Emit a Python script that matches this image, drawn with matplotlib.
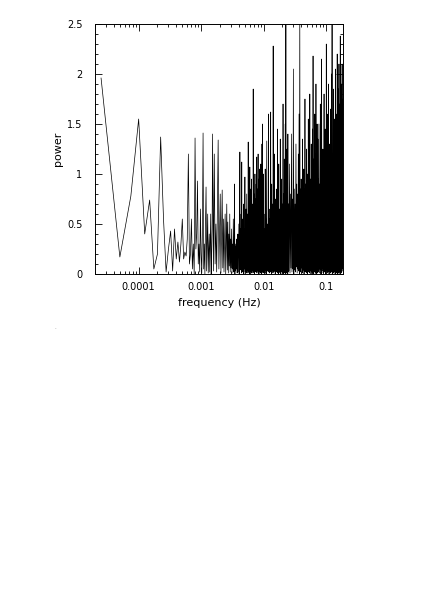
#!/usr/bin/env python3
"""Power spectrum (periodogram) on a log frequency axis, PGPLOT-like look."""

import numpy as np
import matplotlib
matplotlib.use("Agg")
import matplotlib.pyplot as plt
from matplotlib.ticker import FixedLocator, NullFormatter, MultipleLocator, FuncFormatter

# frequency resolution of the spectrum (Hz); frequencies are k * F0
F0 = 2.5e-5

# k = 1..60, every bin
power_a = [
    1.96, 0.17, 0.78, 1.55, 0.40, 0.74, 0.05, 0.20, 1.37, 0.55,
    0.02, 0.25, 0.43, 0.03, 0.45, 0.15, 0.32, 0.12, 0.30, 0.55,
    0.15, 0.22, 0.18, 0.35, 1.20, 0.10, 0.20, 0.55, 0.05, 0.30,
    0.00, 1.36, 0.25, 0.40, 0.93, 0.10, 0.30, 0.02, 0.65, 0.20,
    0.01, 0.45, 1.41, 0.05, 0.30, 0.00, 0.50, 0.87, 0.03, 0.35,
    0.60, 0.01, 0.25, 0.40, 0.02, 0.30, 0.60, 0.00, 0.20, 0.45,
]
# k = 61..399, every 2nd bin
power_b = [
    1.40, 0.03, 1.20, 0.10, 0.50, 0.02, 0.65, 1.34, 0.05, 0.45,
    0.80, 0.01, 0.40, 0.84, 0.06, 0.55, 0.02, 0.35, 0.60, 0.00,
    0.30, 0.70, 0.04, 0.52, 0.01, 0.40, 0.08, 0.60, 0.02, 0.35,
    0.06, 0.45, 0.01, 0.30, 0.05, 0.55, 0.02, 0.25, 0.90, 0.00,
    0.30, 0.03, 0.28, 0.05, 0.35, 0.01, 0.25, 0.40, 0.02, 0.30,
    0.50, 0.00, 0.35, 1.22, 0.04, 0.45, 0.06, 0.60, 0.01, 1.12,
    0.04, 0.55, 0.02, 0.40, 0.07, 0.70, 0.00, 0.45, 0.05, 0.35,
    0.97, 0.02, 0.50, 0.06, 0.65, 0.01, 0.40, 0.80, 0.03, 0.55,
    0.05, 0.60, 0.01, 1.32, 0.08, 0.50, 0.02, 0.75, 0.00, 0.45,
    1.07, 0.04, 0.60, 0.02, 0.85, 0.06, 0.40, 0.01, 0.95, 0.05,
    0.50, 0.03, 0.70, 0.08, 0.45, 0.01, 1.85, 0.04, 0.55, 0.02,
    0.80, 0.06, 0.40, 0.00, 0.65, 1.00, 0.03, 0.50, 0.05, 0.75,
    0.02, 0.45, 0.90, 0.04, 0.60, 1.17, 0.01, 0.55, 0.07, 0.85,
    0.03, 0.50, 0.70, 1.20, 0.02, 0.45, 0.05, 0.60, 0.00, 0.95,
    0.06, 0.55, 0.02, 1.05, 0.40, 0.04, 0.65, 0.01, 0.80, 0.03,
    1.10, 0.05, 0.70, 0.02, 0.45, 0.90, 0.00, 0.60, 1.30, 0.04,
    0.40, 1.50, 0.02, 0.55, 0.06, 0.75, 0.01, 0.65, 1.00, 0.03,
]
# k = 400..995, every 5th bin
power_c1 = [
    0.02, 0.60, 0.05, 0.45, 0.01, 1.05, 0.04, 0.55, 0.00, 0.70,
    1.33, 0.03, 0.50, 0.06, 0.40, 0.02, 1.60, 0.05, 0.65, 0.01,
    0.55, 0.08, 0.35, 0.02, 1.62, 0.04, 0.60, 0.00, 0.90, 0.03,
    0.45, 0.06, 0.70, 0.01, 2.28, 0.05, 0.50, 0.02, 0.65, 0.07,
    1.20, 0.03, 0.55, 0.00, 0.75, 0.04, 0.40, 0.06, 0.85, 0.02,
    0.60, 0.05, 0.45, 0.01, 1.45, 0.03, 0.70, 0.08, 0.50, 0.00,
    1.10, 0.04, 0.55, 0.02, 0.65, 0.06, 0.40, 0.01, 1.35, 0.05,
    0.50, 0.00, 0.75, 0.03, 0.60, 0.07, 0.95, 0.02, 0.55, 0.04,
    0.70, 0.01, 0.45, 0.05, 1.70, 0.03, 0.65, 0.00, 0.80, 0.06,
    0.55, 0.02, 1.15, 0.04, 0.60, 0.01, 0.75, 0.05, 1.50, 0.03,
    0.65, 0.00, 2.60, 0.06, 0.70, 0.02, 0.90, 0.04, 0.55, 0.01,
    1.25, 0.05, 0.60, 0.03, 0.80, 0.00, 1.40, 0.07, 0.70, 0.02,
]
# k = 1000..2980, every 20th bin
power_c2 = [
    0.70, 0.03, 1.10, 0.01, 0.80, 0.06, 1.40, 0.02, 0.75, 0.05,
    2.05, 0.00, 0.85, 0.04, 0.70, 0.02, 1.30, 0.07, 0.90, 0.01,
    0.80, 0.05, 1.20, 0.03, 1.60, 0.00, 2.70, 0.04, 0.85, 0.02,
    0.95, 0.06, 0.75, 0.01, 1.35, 0.03, 0.80, 0.05, 1.05, 0.00,
    0.85, 0.04, 1.75, 0.02, 0.90, 0.06, 0.80, 0.01, 1.25, 0.03,
    1.00, 0.00, 0.85, 0.05, 1.55, 0.02, 0.90, 0.04, 1.10, 0.01,
    1.80, 0.03, 0.95, 0.06, 0.85, 0.00, 1.30, 0.02, 1.00, 0.05,
    0.90, 0.01, 1.45, 0.04, 2.18, 0.03, 0.95, 0.00, 1.15, 0.06,
    1.00, 0.02, 1.60, 0.05, 0.90, 0.01, 1.20, 0.03, 1.90, 0.00,
    0.95, 0.04, 1.10, 0.02, 1.50, 0.06, 1.00, 0.01, 1.35, 0.03,
]
# k = 3000..7280, every 40th bin
power_c3 = [
    0.95, 0.02, 1.50, 0.05, 0.90, 0.01, 1.70, 0.04, 1.00, 0.00,
    2.15, 0.03, 1.05, 0.06, 1.25, 0.01, 0.95, 0.04, 1.80, 0.02,
    1.00, 0.05, 1.45, 0.00, 1.10, 0.03, 2.30, 0.06, 1.15, 0.01,
    1.05, 0.04, 1.60, 0.02, 1.90, 0.05, 1.00, 0.00, 1.30, 0.03,
    1.15, 0.06, 1.10, 0.01, 1.65, 0.04, 1.20, 0.02, 2.00, 0.05,
    2.70, 0.00, 1.20, 0.03, 1.10, 0.06, 1.85, 0.01, 1.15, 0.04,
    1.25, 0.02, 1.55, 0.05, 1.20, 0.00, 2.05, 0.03, 1.10, 0.06,
    1.30, 0.01, 1.15, 0.04, 1.60, 0.02, 2.20, 0.05, 1.20, 0.00,
    1.40, 0.03, 1.85, 0.06, 1.25, 0.01, 2.10, 0.04, 1.30, 0.02,
    1.15, 0.05, 1.70, 0.00, 2.38, 0.03, 1.25, 0.06, 1.55, 0.01,
    1.90, 0.04, 1.30, 0.02, 1.75, 0.05, 2.10, 0.03,
]

xtick_vals = [1e-4, 1e-3, 1e-2, 1e-1]
xtick_labels = ["0.0001", "0.001", "0.01", "0.1"]


def main():
    k = np.concatenate([
        np.arange(1, 61),
        np.arange(61, 400, 2),
        np.arange(400, 1000, 5),
        np.arange(1000, 3000, 20),
        np.arange(3000, 7281, 40),
    ])
    power = np.array(power_a + power_b + power_c1 + power_c2 + power_c3)
    freq = k * F0

    plt.rcParams["font.family"] = "DejaVu Sans"
    fig = plt.figure(figsize=(4.36, 6.16), dpi=100)
    ax = fig.add_axes([0.2179, 0.5552, 0.5688, 0.4058])

    ax.plot(freq, power, color="black", lw=0.5)

    ax.set_xscale("log")
    ax.set_xlim(2.0e-5, 0.187)
    ax.set_ylim(0, 2.5)

    ax.xaxis.set_major_locator(FixedLocator(xtick_vals))
    ax.set_xticklabels(xtick_labels)
    ax.xaxis.set_minor_locator(FixedLocator(
        [m * 10.0 ** e for e in range(-5, 0) for m in range(2, 10)]))
    ax.xaxis.set_minor_formatter(NullFormatter())

    ax.yaxis.set_major_locator(MultipleLocator(0.5))
    ax.yaxis.set_minor_locator(MultipleLocator(0.1))
    ax.yaxis.set_major_formatter(FuncFormatter(lambda v, p: f"{v:g}"))

    ax.tick_params(which="both", direction="in", top=True, right=True,
                   width=0.6, colors="black", labelsize=7)
    ax.tick_params(axis="x", pad=6)
    ax.tick_params(axis="y", pad=9)
    ax.tick_params(which="major", length=5)
    ax.tick_params(which="minor", length=2.5)
    for s in ax.spines.values():
        s.set_linewidth(0.7)

    ax.set_xlabel("frequency (Hz)", fontsize=8, labelpad=4)
    ax.set_ylabel("power", fontsize=8, labelpad=3)

    # stray mark below the plot in the original page
    fig.text(55 / 436, 1 - 327 / 616, ".", fontsize=4, color="0.5",
             ha="center", va="center")

    fig.savefig("out.png", dpi=100)


if __name__ == "__main__":
    main()
